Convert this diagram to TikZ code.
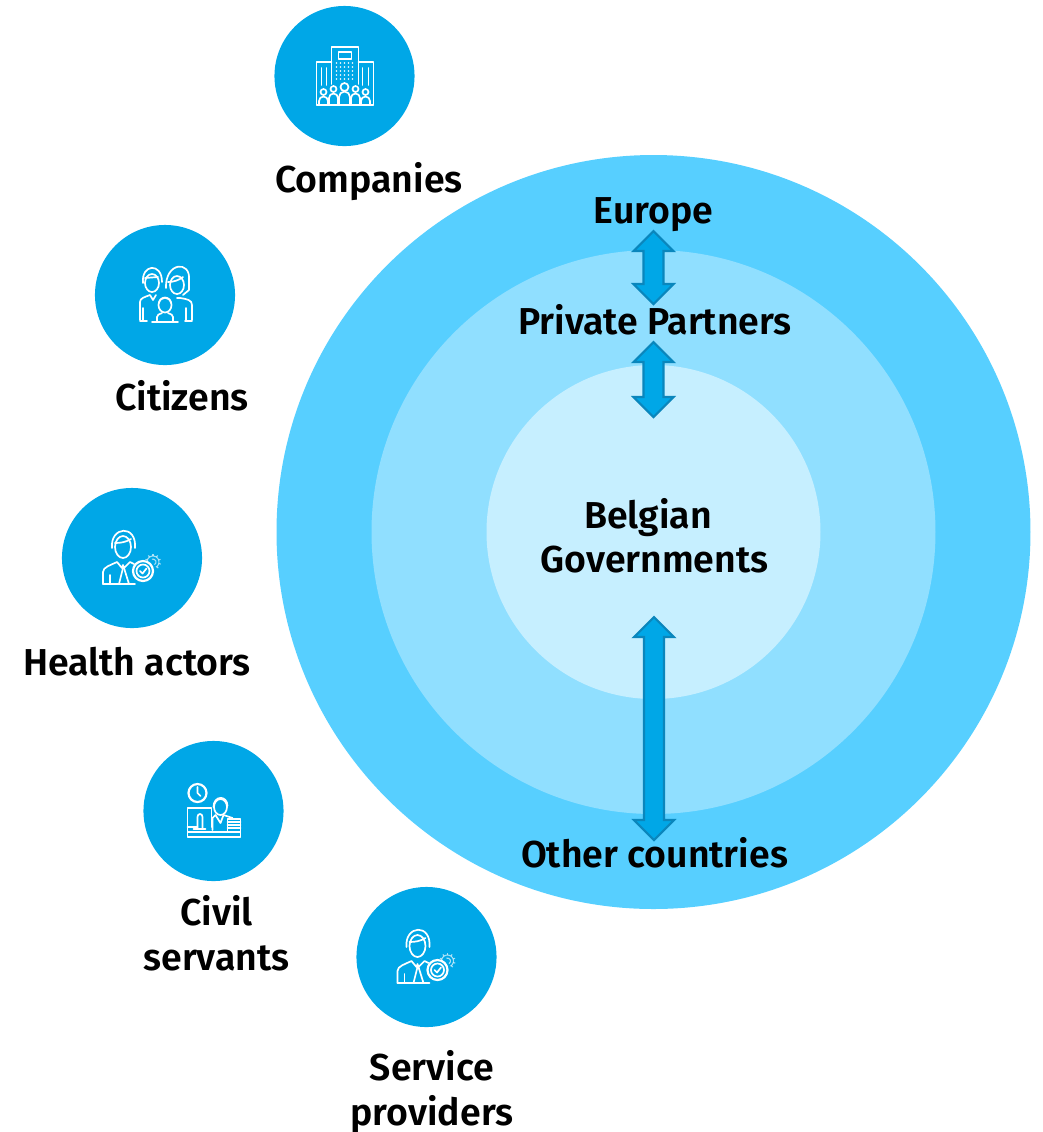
\documentclass[tikz,border=0pt]{standalone}
\usepackage{fontspec}
\setmainfont{Fira Sans}[BoldFont = {Fira Sans SemiBold}]
\usetikzlibrary{calc}

\definecolor{outer ring}{HTML}{57CFFF}
\definecolor{middle ring}{HTML}{90DFFF}
\definecolor{inner ring}{HTML}{C6EFFF}
\definecolor{disc blue}{HTML}{00A7E7}
\definecolor{arrow edge}{HTML}{0A86BC}

\tikzset{
	disc/.style = {circle, fill = disc blue, minimum size = 1.4cm, inner sep = 0},
	label text/.style = {font = \fontsize{10.65}{12.8}\selectfont\bfseries, align = center, text = black, anchor = base},
	two lines/.style = {anchor = center},
	big arrow/.style = {fill = disc blue, draw = arrow edge, line width = 0.6pt, line join = miter},
	icon line/.style = {draw = white, line width = 0.48pt, line join = round, line cap = round},
	gear line/.style = {draw = white, line width = 0.3pt, opacity = 0.65},
	pics/building/.style = {code = {
		\draw [icon line] (-13,-14) -- (-28,-14) -- (-28,29) -- (29,29) -- (29,-14) -- (14,-14);
		\draw [icon line] (-13,8) -- (-13,-29) -- (14,-29) -- (14,8);
		\draw [icon line] (-6,-24) rectangle (7,-17);
		\foreach \x in {-8,-4,...,8}
			\foreach \y in {-13,-9,...,3}
				\fill [white] (\x,\y) circle (0.8);
		\foreach \x in {-23,-18,18,24}
			\draw [icon line] (\x,-8) -- (\x,9);
		\foreach \x/\y/\s/\w in {-21/16/3/4.5, -11/13/3/4.5, 0/11/4/5.5, 11/13/3/4.5, 21/16/3/4.5}
		{
			\draw [icon line] (\x,\y) circle (\s);
			\draw [icon line] ($ (\x,29) + (-\w,0) $) -- ($ (\x,\y) + (-\w,\s+6) $)
				arc [start angle = 180, end angle = 360, radius = \w] -- ($ (\x,29) + (\w,0) $);
		}
	}},
	pics/family/.style = {code = {
		\draw [icon line] (-13,-12) ellipse (7 and 9);
		\draw [icon line] (-22,-12) .. controls (-24,-31) and (-3,-33) .. (-3,-13);
		\draw [icon line] (-20,-17) -- (-7,-18);
		\draw [icon line] (-25,25) -- (-25,7) .. controls (-25,3) and (-20,2) .. (-15,0) -- (-12,5) -- (-9,0);
		\draw [icon line] (-22,13) -- (-22,25);
		\draw [icon line] (-25,26) -- (-18,26);
		\draw [icon line] (12,-10) ellipse (7 and 9);
		\draw [icon line] (1,-7) .. controls (0,-33) and (26,-35) .. (24,-15) -- (24,-5) -- (18,0);
		\draw [icon line] (3,-13) .. controls (9,-13) and (14,-15) .. (18,-18);
		\draw [icon line] (12,3) -- (15,3) .. controls (22,4) and (27,5) .. (27,10) -- (27,25);
		\draw [icon line] (21,13) -- (21,25);
		\draw [icon line] (20,26) -- (27,26);
		\draw [icon line] (0,10) ellipse (6.5 and 7.5);
		\draw [icon line] (-6,8) .. controls (-5,1) and (5,1) .. (6,8);
		\draw [icon line] (-8,27) -- (-8,22) .. controls (-8,20) and (-6,19) .. (-3,18);
		\draw [icon line] (8,27) -- (8,22) .. controls (8,20) and (6,19) .. (3,18);
		\draw [icon line] (-13,27) -- (13,27);
	}},
	pics/agent/.style = {code = {
		\draw [icon line] (-9,-11) ellipse (8 and 11);
		\draw [icon line] (-20,-10) .. controls (-22,-32) and (5,-34) .. (3,-10);
		\draw [icon line] (-17,-15) .. controls (-11,-15) and (-6,-16) .. (-1,-19);
		\draw [icon line] (-29,26) -- (-29,14) .. controls (-29,9) and (-21,7) .. (-15,4) -- (-10,10) -- (-9,7) -- (-8,10) -- (-2,4) -- (2,6);
		\draw [icon line] (-29,26) -- (3,26);
		\draw [icon line] (-22,17) -- (-22,26);
		\draw [icon line] (-9,10) -- (-13,26);
		\draw [icon line] (-8,10) -- (-3,26);
		\draw [icon line, line width = 0.62pt] (11,13) circle (10);
		\draw [icon line] (11,13) circle (6.5);
		\draw [icon line] (8,13) -- (10.5,15.5) -- (14.5,10.5);
		\draw [gear line] ($ (21,4) + (-170:6) $) arc [start angle = -170, end angle = 60, radius = 6];
		\foreach \a in {-160,-125,...,60}
			\draw [gear line] ($ (21,4) + (\a:6) $) -- ($ (21,4) + (\a:8) $);
		\draw [gear line] ($ (21,4) + (-110:3) $) arc [start angle = -110, end angle = 60, radius = 3];
	}},
	pics/desk/.style = {code = {
		\draw [icon line, line width = 0.62pt] (-16,-18) circle (9);
		\draw [icon line] (-16,-24) -- (-16,-18) -- (-13,-15);
		\draw [icon line] (-26,21) -- (-26,-3) -- (-2,-3) -- (-2,16);
		\draw [icon line] (-26,16) -- (-16,16);
		\draw [icon line] (-16,18) -- (-16,6) .. controls (-16,2) and (-11,2) .. (-11,6) -- (-11,18);
		\draw [icon line] (-20,18) -- (-8,18);
		\draw [icon line] (-26,21) rectangle (27,26);
		\draw [icon line] (7,-4) ellipse (6.5 and 8);
		\draw [icon line] (0,-4) .. controls (0,-16) and (14,-16) .. (14,-5);
		\draw [icon line] (-1,19) -- (-1,7) -- (2,4) -- (7,12) -- (10,4) -- (19,7);
		\draw [icon line] (14,8) rectangle (27,21);
		\foreach \y in {11,14,17}
			\draw [icon line] (14,\y) -- (27,\y);
	}}
}

\newcommand{\bigarrow}[2]{
	\draw [big arrow] (#1) -- ++(20,20) -- ++(-10,0) -- ($ (#2) + (10,-20) $) -- ++(10,0) -- (#2)
		-- ++(-20,-20) -- ++(10,0) -- ($ (#1) + (-10,20) $) -- ++(-10,0) -- cycle;
}

\begin{document}
\begin{tikzpicture}[x = 0.01cm, y = -0.01cm]
			\def\Ro{377};
			\def\Rm{282};
			\def\Ri{167};

			\useasboundingbox (0,0) rectangle (1043,1132);

			\coordinate (ring centre) at (653.5,532);

			\begin{scope}
				\fill [outer ring] (ring centre) circle (\Ro);
				\fill [middle ring] (ring centre) circle (\Rm);
				\fill [inner ring] (ring centre) circle (\Ri);
			\end{scope}

			\coordinate (europe top) at (653.5,231);
			\coordinate (europe bottom) at (653.5,304);
			\coordinate (partners top) at (653.5,342);
			\coordinate (partners bottom) at (653.5,417);
			\coordinate (others top) at (654,617);
			\coordinate (others bottom) at (654,840);

			\bigarrow{europe top}{europe bottom}
			\bigarrow{partners top}{partners bottom}
			\bigarrow{others top}{others bottom}

			\node [label text] (europe) at (653.5,223) {Europe};
			\node [label text] (partners) at (655,334) {Private Partners};
			\node [label text] (belgian) at (648,528) {Belgian};
			\node [label text] (governments) at (654.5,572) {Governments};
			\node [label text] (others) at (654.5,867) {Other countries};

			\node [disc] (companies disc) at (344.5,76) {};
			\node [disc] (citizens disc) at (165,295) {};
			\node [disc] (health disc) at (132,558) {};
			\node [disc] (civil disc) at (213.5,811) {};
			\node [disc] (service disc) at (426.5,957) {};

			\pic at (companies disc) {building};
			\pic at (citizens disc) {family};
			\pic at (health disc) {agent};
			\pic at (civil disc) {desk};
			\pic at (service disc) {agent};

			\node [label text] (companies) at (369,192) {Companies};
			\node [label text] (citizens) at (182,410) {Citizens};
			\node [label text] (health) at (137,675) {Health actors};
			\node [label text, two lines] (civil) at (216.5,933) {Civil\\servants};
			\node [label text, two lines] (service) at (432,1092.5) {Service\\providers};
		\end{tikzpicture}
\end{document}
